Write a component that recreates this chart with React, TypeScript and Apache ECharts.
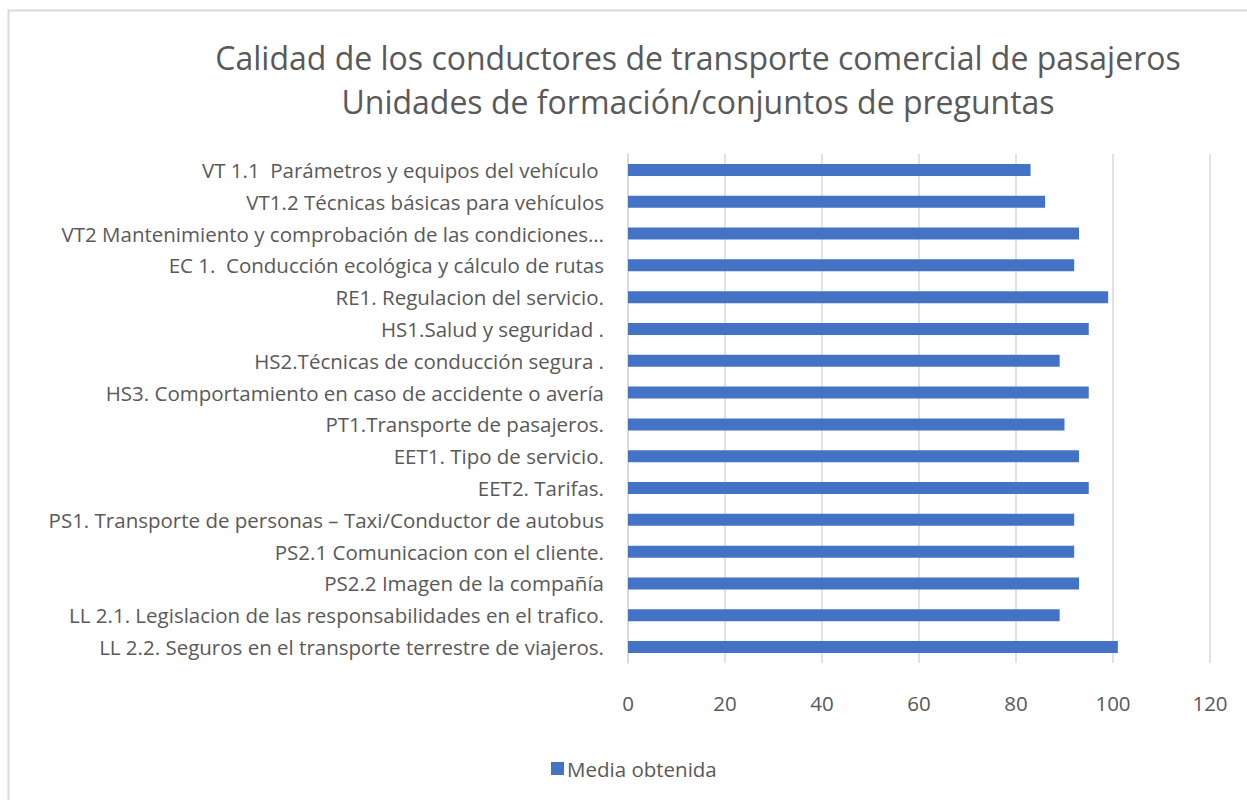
import React, { useEffect, useRef } from "react";
import * as echarts from "echarts";

const titleLines = [
  "Calidad de los conductores de transporte comercial de pasajeros",
  "Unidades de formación/conjuntos de preguntas",
];
const seriesName = "Media obtenida";
// top to bottom as shown
const categories = [
  "VT 1.1  Parámetros y equipos del vehículo ",
  "VT1.2 Técnicas básicas para vehículos",
  "VT2 Mantenimiento y comprobación de las condiciones…",
  "EC 1.  Conducción ecológica y cálculo de rutas",
  "RE1. Regulacion del servicio.",
  "HS1.Salud y seguridad .",
  "HS2.Técnicas de conducción segura .",
  "HS3. Comportamiento en caso de accidente o avería",
  "PT1.Transporte de pasajeros.",
  "EET1. Tipo de servicio.",
  "EET2. Tarifas.",
  "PS1. Transporte de personas – Taxi/Conductor de autobus",
  "PS2.1 Comunicacion con el cliente.",
  "PS2.2 Imagen de la compañía",
  "LL 2.1. Legislacion de las responsabilidades en el trafico.",
  "LL 2.2. Seguros en el transporte terrestre de viajeros.",
];
const values = [83, 86, 93, 92, 99, 95, 89, 95, 90, 93, 95, 92, 92, 93, 89, 101];
const xTicks = { min: 0, max: 120, interval: 20 };

const FONT = "'Open Sans', 'Noto Sans', sans-serif";
const TEXT = "#595959";

export default function App() {
  const ref = useRef<HTMLDivElement>(null);
  useEffect(() => {
    if (!ref.current) return;
    const chart = echarts.init(ref.current, undefined, { renderer: "svg" });
    chart.setOption({
      animation: false,
      backgroundColor: "#ffffff",
      title: {
        text: titleLines.join("\n"),
        left: 693,
        top: 30,
        textAlign: "center",
        textStyle: {
          fontFamily: FONT,
          fontSize: 32,
          fontWeight: "normal",
          color: TEXT,
          lineHeight: 44,
        },
      },
      graphic: [
        {
          type: "rect",
          shape: { x: 8.5, y: 10.5, width: 1400, height: 900 },
          style: { fill: "none", stroke: "#d9d9d9", lineWidth: 2 },
          silent: true,
        },
      ],
      legend: {
        data: [seriesName],
        left: 546,
        top: 753,
        icon: "rect",
        itemWidth: 13,
        itemHeight: 13,
        itemGap: 4,
        textStyle: { fontFamily: FONT, fontSize: 20.5, color: TEXT, padding: [0, 0, 0, -2] },
      },
      grid: { left: 628, right: 37, top: 154, bottom: 137, containLabel: false },
      xAxis: {
        type: "value",
        min: xTicks.min,
        max: xTicks.max,
        interval: xTicks.interval,
        axisLine: { show: false },
        axisTick: { show: false },
        axisLabel: { fontFamily: FONT, fontSize: 20.5, color: TEXT, margin: 29 },
        splitLine: { show: true, lineStyle: { color: "#d9d9d9", width: 1.5 } },
      },
      yAxis: {
        type: "category",
        data: categories,
        inverse: true,
        axisLine: { show: true, lineStyle: { color: "#d9d9d9", width: 1.5 } },
        axisTick: { show: false },
        axisLabel: { fontFamily: FONT, fontSize: 20.5, color: TEXT, margin: 24 },
      },
      series: [
        {
          name: seriesName,
          type: "bar",
          data: values,
          barWidth: 12,
          itemStyle: { color: "#4472C4" },
        },
      ],
    });
    return () => chart.dispose();
  }, []);
  return (
    <div
      ref={ref}
      style={{ position: "absolute", left: 0, top: 0, width: 1247, height: 800 }}
    />
  );
}
